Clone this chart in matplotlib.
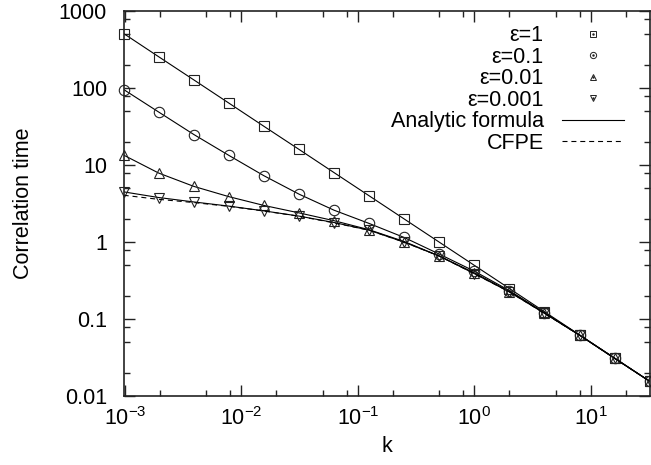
import math
import matplotlib
matplotlib.use('Agg')
import matplotlib.pyplot as plt
from matplotlib.lines import Line2D
from matplotlib.ticker import LogLocator, FixedLocator, FuncFormatter

plt.rcParams['font.family'] = ['Liberation Sans', 'DejaVu Sans']
plt.rcParams['mathtext.fontset'] = 'custom'
plt.rcParams['mathtext.rm'] = 'Liberation Sans'
plt.rcParams['mathtext.it'] = 'Liberation Sans'
plt.rcParams['mathtext.default'] = 'regular'
plt.rcParams['lines.scale_dashes'] = False

# k values (powers of two) and correlation times
k_vals = [0.000977, 0.00195, 0.00391, 0.00781, 0.0156, 0.0313, 0.0625, 0.125,
          0.25, 0.5, 1, 2, 4, 8, 16, 32]
tau_eps1 = [512, 256, 128, 64, 32, 16, 8, 4, 2, 1, 0.5, 0.25, 0.125, 0.0625,
            0.0313, 0.0156]
tau_eps01 = [96, 49, 25, 13.4, 7.3, 4.2, 2.6, 1.75, 1.15, 0.70, 0.42, 0.235,
             0.121, 0.062, 0.031, 0.0156]
tau_eps001 = [13.5, 7.9, 5.3, 3.9, 3.0, 2.4, 1.9, 1.45, 1.02, 0.66, 0.40,
              0.228, 0.12, 0.062, 0.031, 0.0156]
tau_eps0001 = [4.5, 3.8, 3.33, 2.94, 2.55, 2.18, 1.8, 1.43, 1.0, 0.66, 0.39,
               0.226, 0.119, 0.062, 0.031, 0.0156]
tau_cfpe = [4.07, 3.6, 3.27, 2.92, 2.54, 2.17, 1.78, 1.43, 1.0, 0.66, 0.39,
            0.226, 0.119, 0.062, 0.031, 0.0156]

series = [
    ('\u03b5=1', tau_eps1, 's'),
    ('\u03b5=0.1', tau_eps01, 'o'),
    ('\u03b5=0.01', tau_eps001, '^'),
    ('\u03b5=0.001', tau_eps0001, 'v'),
]

fig = plt.figure(figsize=(6.51, 4.65), dpi=100)
ax = fig.add_axes([0.190, 0.148, 0.808, 0.828])

FS = 15.5
handles, labels = [], []
for label, tau, marker in series:
    ax.plot(k_vals, tau, '-', color='k', lw=0.8)
    ax.plot(k_vals, tau, marker, ms=7.5, mfc='none', mec='#222222', mew=0.8,
            clip_on=False)
    h1 = Line2D([], [], ls='none', marker=marker, ms=4.5, mfc='none',
                mec='#222222', mew=0.7)
    h2 = Line2D([], [], ls='none', marker='.', ms=1.5, color='#222222')
    handles.append((h1, h2))
    labels.append(label)

ax.plot(k_vals, tau_cfpe, color='k', lw=0.8, dashes=(3.6, 2.8))

handles.append(Line2D([], [], color='k', lw=0.8))
labels.append('Analytic formula')
handles.append(Line2D([], [], color='k', lw=0.8, dashes=(3.6, 2.8)))
labels.append('CFPE')

ax.set_xscale('log')
ax.set_yscale('log')
ax.set_xlim(0.000977, 32)
ax.set_ylim(0.01, 1000)

ax.xaxis.set_major_locator(FixedLocator([1e-3, 1e-2, 1e-1, 1, 10]))
ax.xaxis.set_major_formatter(
    FuncFormatter(lambda v, p: '$10^{%d}$' % round(math.log10(v))))
ax.yaxis.set_major_locator(FixedLocator([0.01, 0.1, 1, 10, 100, 1000]))
ax.yaxis.set_major_formatter(FuncFormatter(lambda v, p: '%g' % v))
ax.xaxis.set_minor_locator(LogLocator(base=10, subs=[2, 5, 8], numticks=20))
ax.yaxis.set_minor_locator(LogLocator(base=10, subs=[2, 5, 8], numticks=20))

ax.tick_params(which='both', direction='in', top=True, right=True,
               labelsize=FS, width=1.0, color='#222222')
ax.tick_params(which='major', length=8)
ax.tick_params(which='minor', length=4)
ax.tick_params(axis='y', which='major', pad=12)
ax.tick_params(axis='x', which='major', pad=8)
for sp in ax.spines.values():
    sp.set_linewidth(1.2)
    sp.set_color('#222222')

ax.set_xlabel('k', fontsize=FS, labelpad=4)
ax.set_ylabel('Correlation time', fontsize=FS, labelpad=18)

ax.legend(handles, labels, loc='upper right', bbox_to_anchor=(0.952, 0.963),
          frameon=False, markerfirst=False, fontsize=FS, handlelength=2.9,
          handletextpad=0.85, labelspacing=0.02, borderaxespad=0,
          borderpad=0)

fig.savefig('out.png', dpi=100)
